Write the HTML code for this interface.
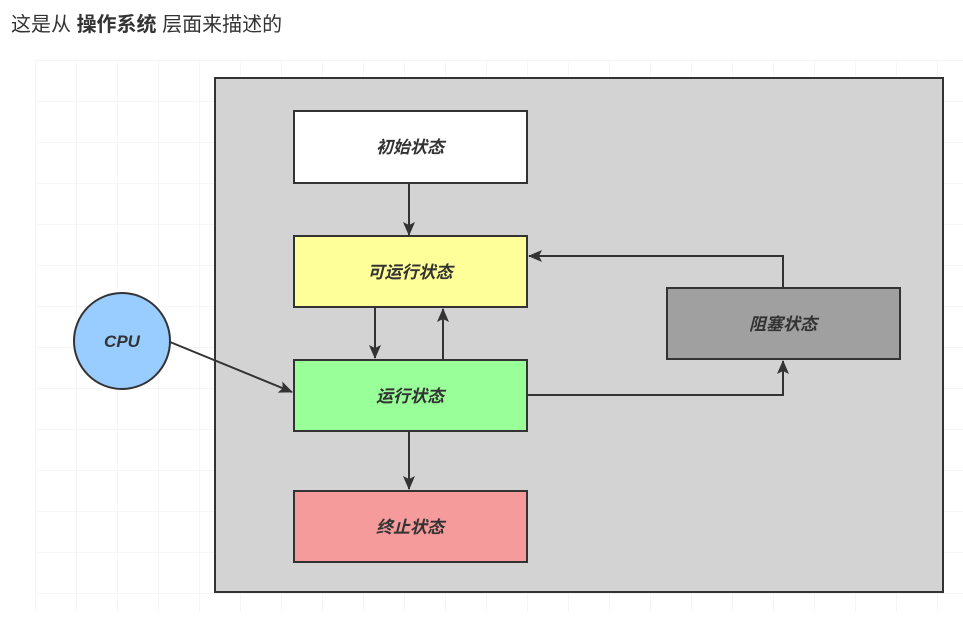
<!DOCTYPE html>
<html><head><meta charset="utf-8"><style>
body{margin:0;background:#fff;width:963px;height:619px;overflow:hidden;font-family:"Liberation Sans","Noto Sans CJK SC",sans-serif}
.t{position:absolute;left:11px;top:8px;font-size:20px;color:#333}
</style></head><body>
<div class="t">这是从 <b>操作系统</b> 层面来描述的</div>
<svg width="963" height="619" style="position:absolute;left:0;top:0">
<defs>
<pattern id="g" width="41" height="41" patternUnits="userSpaceOnUse" x="35" y="60"><path d="M0 0H41M0 0V41" stroke="#eee" stroke-width="1" fill="none"/></pattern>
<marker id="a" markerWidth="14" markerHeight="12" refX="13" refY="6" orient="auto" markerUnits="userSpaceOnUse"><path d="M0 0L14 6L0 12L3 6Z" fill="#333"/></marker>
</defs>
<rect x="35" y="60" width="928" height="552" fill="url(#g)"/>
<rect x="215" y="78" width="728" height="514" fill="#d3d3d3" stroke="#333" stroke-width="2"/>
<g stroke="#333" stroke-width="2">
<rect x="294" y="111" width="233" height="72" fill="#fff"/>
<rect x="294" y="236" width="233" height="71" fill="#ffff99"/>
<rect x="294" y="360" width="233" height="71" fill="#99ff99"/>
<rect x="294" y="491" width="233" height="71" fill="#f59b9b"/>
<rect x="667" y="288" width="233" height="71" fill="#a0a0a0"/>
<circle cx="122" cy="341" r="48" fill="#99ccff"/>
</g>
<g stroke="#333" stroke-width="2" fill="none" marker-end="url(#a)">
<path d="M409 183V235"/>
<path d="M375 307V358"/>
<path d="M443 360V309"/>
<path d="M409 431V489"/>
<path d="M783 288V256H529"/>
<path d="M527 395H783V361"/>
<path d="M170 342L292 392"/>
</g>
<g font-size="17" font-weight="bold" font-style="italic" fill="#333" text-anchor="middle">
<text x="410" y="153">初始状态</text>
<text x="410" y="278">可运行状态</text>
<text x="410" y="402">运行状态</text>
<text x="410" y="533">终止状态</text>
<text x="783" y="330">阻塞状态</text>
<text x="122" y="347">CPU</text>
</g>
</svg>
</body></html>
